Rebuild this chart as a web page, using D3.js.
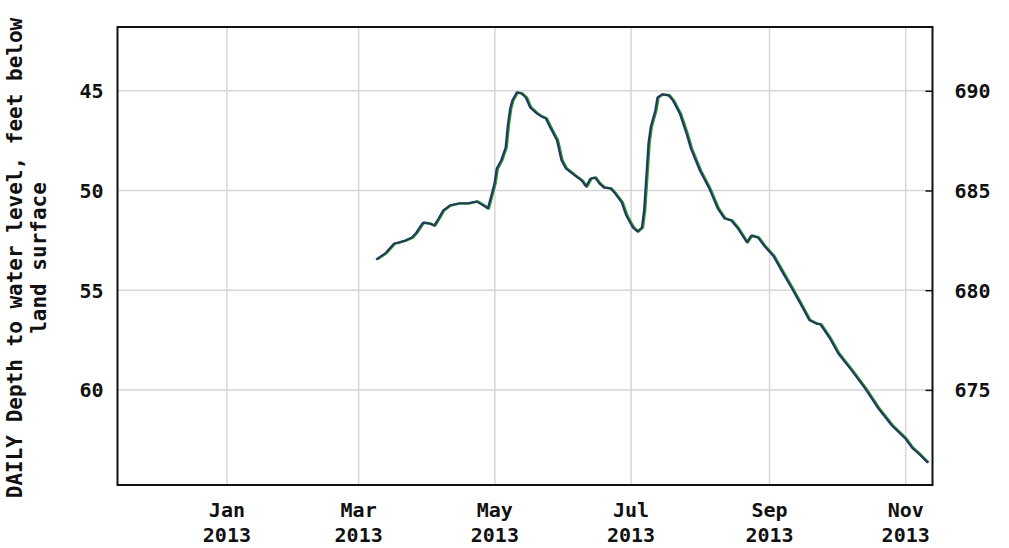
<!DOCTYPE html>
<html>
<head>
<meta charset="utf-8">
<script src="https://cdn.jsdelivr.net/npm/d3@7"></script>
<style>
  html, body { margin: 0; padding: 0; background: #fff; }
  svg { display: block; }
  text { font-family: "DejaVu Sans Mono", "Liberation Mono", monospace; font-weight: bold; fill: #111; }
</style>
</head>
<body>
<script>
// ---- data ----
const dates = [
  "2013-03-09","2013-03-13","2013-03-17","2013-03-19","2013-03-22","2013-03-25","2013-03-27","2013-03-30",
  "2013-04-02","2013-04-04","2013-04-06","2013-04-08","2013-04-11","2013-04-15","2013-04-19","2013-04-23",
  "2013-04-26","2013-04-28","2013-04-29","2013-05-01","2013-05-02","2013-05-04","2013-05-06","2013-05-07",
  "2013-05-08","2013-05-09","2013-05-11","2013-05-13","2013-05-15","2013-05-17","2013-05-20","2013-05-22",
  "2013-05-24","2013-05-26","2013-05-29","2013-05-31","2013-06-02","2013-06-06","2013-06-09","2013-06-11",
  "2013-06-13","2013-06-15","2013-06-17","2013-06-19","2013-06-22","2013-06-24","2013-06-27","2013-06-29",
  "2013-07-02","2013-07-04","2013-07-06","2013-07-07","2013-07-08","2013-07-09","2013-07-10","2013-07-12",
  "2013-07-13","2013-07-15","2013-07-18","2013-07-20","2013-07-23","2013-07-26","2013-07-28","2013-08-01",
  "2013-08-05","2013-08-09","2013-08-12","2013-08-15","2013-08-18","2013-08-22","2013-08-24","2013-08-27",
  "2013-08-30","2013-09-03","2013-09-07","2013-09-11","2013-09-15","2013-09-19","2013-09-22","2013-09-24",
  "2013-09-28","2013-10-02","2013-10-08","2013-10-14","2013-10-20","2013-10-26","2013-11-01","2013-11-04",
  "2013-11-07","2013-11-11"
];
const depths = [
  53.46,53.16,52.66,52.61,52.51,52.36,52.11,51.61,
  51.66,51.76,51.40,51.00,50.75,50.65,50.65,50.55,
  50.75,50.90,50.50,49.65,48.90,48.49,47.84,46.70,
  45.90,45.48,45.08,45.13,45.33,45.84,46.14,46.29,
  46.39,46.84,47.49,48.49,48.90,49.25,49.50,49.80,
  49.40,49.35,49.65,49.85,49.90,50.15,50.60,51.25,
  51.86,52.06,51.86,51.00,49.30,47.60,46.80,46.00,
  45.33,45.18,45.23,45.50,46.14,47.14,47.90,49.00,
  49.85,50.90,51.40,51.50,51.90,52.60,52.26,52.36,
  52.80,53.30,54.10,54.87,55.67,56.50,56.67,56.72,
  57.38,58.18,59.03,59.93,60.94,61.79,62.44,62.90,
  63.20,63.65
];
const xTickDates = ["2013-01-01","2013-03-01","2013-05-01","2013-07-01","2013-09-01","2013-11-01"];
const xTickMonths = ["Jan","Mar","May","Jul","Sep","Nov"];
const xTickYears = ["2013","2013","2013","2013","2013","2013"];
const leftTicks = [45, 50, 55, 60];
const rightTicks = [690, 685, 680, 675];
const landSurface = 735; // elevation = landSurface - depth
const yTitle1 = "DAILY Depth to water level, feet below";
const yTitle2 = "land surface";

// ---- layout ----
const W = 1009, H = 548;
const plot = { left: 117.5, right: 932.5, top: 27, bottom: 485 };

const svg = d3.select("body").append("svg").attr("width", W).attr("height", H);

const parse = d3.utcParse("%Y-%m-%d");
const x = d3.scaleUtc()
  .domain([parse("2012-11-13"), parse("2013-11-13")])
  .range([plot.left, plot.right]);
const y = d3.scaleLinear().domain([41.8, 64.77]).range([plot.top, plot.bottom]);
const yR = d3.scaleLinear().domain([landSurface - 41.8, landSurface - 64.77]).range([plot.top, plot.bottom]);

// gridlines
const grid = svg.append("g");
grid.selectAll("line.v").data(xTickDates).join("line")
  .attr("x1", d => x(parse(d))).attr("x2", d => x(parse(d)))
  .attr("y1", plot.top).attr("y2", plot.bottom)
  .attr("stroke", "#d6d6d6").attr("stroke-width", 1.5);
grid.selectAll("line.h").data(leftTicks).join("line")
  .attr("x1", plot.left).attr("x2", plot.right)
  .attr("y1", d => y(d)).attr("y2", d => y(d))
  .attr("stroke", "#d6d6d6").attr("stroke-width", 1.5);

// data line
const pts = dates.map((d, i) => [parse(d), depths[i]]);
const line = d3.line().x(d => x(d[0])).y(d => y(d[1]));
svg.append("path").datum(pts).attr("d", line)
  .attr("fill", "none").attr("stroke", "#1f9a3a").attr("stroke-width", 2.6)
  .attr("stroke-linejoin", "round")
  .attr("transform", "translate(0.6,0)");
svg.append("path").datum(pts).attr("d", line)
  .attr("fill", "none").attr("stroke", "#2233aa").attr("stroke-width", 1.8)
  .attr("stroke-linejoin", "round")
  .attr("transform", "translate(-0.6,0)");
svg.append("path").datum(pts).attr("d", line)
  .attr("fill", "none").attr("stroke", "#2c3b36").attr("stroke-width", 1.3)
  .attr("stroke-linejoin", "round");

// frame
svg.append("rect")
  .attr("x", plot.left).attr("y", plot.top)
  .attr("width", plot.right - plot.left).attr("height", plot.bottom - plot.top)
  .attr("fill", "none").attr("stroke", "#111").attr("stroke-width", 2);

// left axis
const leftAxis = d3.axisLeft(y).tickValues(leftTicks).tickSize(0).tickPadding(14);
const gL = svg.append("g").attr("transform", `translate(${plot.left},0)`).call(leftAxis);
gL.select(".domain").remove();
gL.selectAll("text").style("font-size", "20px").attr("dy", "0.35em");

// right axis (inward ticks)
const rightAxis = d3.axisRight(yR).tickValues(rightTicks).tickSizeInner(-7).tickSizeOuter(0).tickPadding(22);
const gR = svg.append("g").attr("transform", `translate(${plot.right},0)`).call(rightAxis);
gR.select(".domain").remove();
gR.selectAll("line").attr("stroke", "#111").attr("stroke-width", 1.5);
gR.selectAll("text").style("font-size", "20px").attr("dy", "0.35em");

// bottom axis labels (two lines)
const gB = svg.append("g");
gB.selectAll("text.m").data(xTickDates).join("text")
  .attr("x", d => x(parse(d))).attr("y", 517)
  .attr("text-anchor", "middle").style("font-size", "20px")
  .text((d, i) => xTickMonths[i]);
gB.selectAll("text.yr").data(xTickDates).join("text")
  .attr("x", d => x(parse(d))).attr("y", 542)
  .attr("text-anchor", "middle").style("font-size", "20px")
  .text((d, i) => xTickYears[i]);

// y title
const ty = svg.append("g").attr("transform", "translate(0,258) rotate(-90)");
ty.append("text").attr("x", 0).attr("y", 22).attr("text-anchor", "middle")
  .style("font-size", "21px").text(yTitle1);
ty.append("text").attr("x", 0).attr("y", 46).attr("text-anchor", "middle")
  .style("font-size", "21px").text(yTitle2);
</script>
</body>
</html>
